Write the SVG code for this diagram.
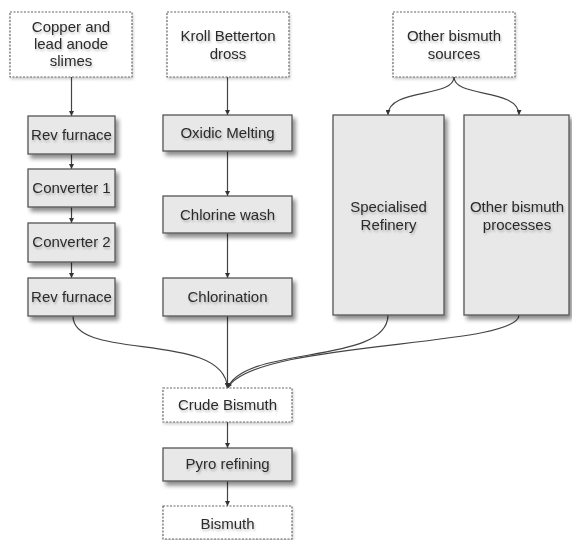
<svg xmlns="http://www.w3.org/2000/svg" width="572" height="540" viewBox="0 0 572 540">
  <defs>
    <filter id="shadow" x="-10%" y="-10%" width="130%" height="140%">
      <feGaussianBlur in="SourceAlpha" stdDeviation="2"/>
      <feOffset dx="3" dy="4" result="blur"/>
      <feComponentTransfer><feFuncA type="linear" slope="0.45"/></feComponentTransfer>
      <feMerge><feMergeNode/><feMergeNode in="SourceGraphic"/></feMerge>
    </filter>
    <filter id="softshadow" x="-10%" y="-10%" width="130%" height="140%">
      <feGaussianBlur in="SourceAlpha" stdDeviation="1.5"/>
      <feOffset dx="1" dy="2" result="blur"/>
      <feComponentTransfer><feFuncA type="linear" slope="0.2"/></feComponentTransfer>
      <feMerge><feMergeNode/><feMergeNode in="SourceGraphic"/></feMerge>
    </filter>
    <filter id="textglow" x="-10%" y="-30%" width="120%" height="160%">
      <feGaussianBlur in="SourceAlpha" stdDeviation="1.2"/>
      <feOffset dx="1" dy="1.5" result="blur"/>
      <feComponentTransfer><feFuncA type="linear" slope="0.25"/></feComponentTransfer>
      <feMerge><feMergeNode/><feMergeNode in="SourceGraphic"/></feMerge>
    </filter>
    <marker id="arrow" viewBox="0 0 8 8" refX="8" refY="4" markerWidth="5" markerHeight="5" orient="auto" markerUnits="userSpaceOnUse">
      <path d="M0,0 L8,4 L0,8 z" fill="#333"/>
    </marker>
  </defs>
  <style>
    .proc { fill: #e8e8e8; stroke: #555; stroke-width: 1.3; filter: url(#shadow); }
    .src { fill: #ffffff; stroke: #666; stroke-width: 1.2; stroke-dasharray: 2 1.5; filter: url(#softshadow); }
    .label { font-family: "Liberation Sans", Arial, sans-serif; font-size: 15px; fill: #2b2b2b; text-anchor: middle; filter: url(#textglow); }
    .conn { fill: none; stroke: #444; stroke-width: 1.2; marker-end: url(#arrow); }
  </style>

  <rect width="572" height="540" fill="#ffffff"/>

  <!-- connectors -->
  <g id="connectors">
    <path class="conn" d="M71.5,77 L71.5,116"/>
    <path class="conn" d="M71.5,154 L71.5,169"/>
    <path class="conn" d="M71.5,207 L71.5,223"/>
    <path class="conn" d="M71.5,262 L71.5,278"/>
    <path class="conn" d="M227.5,77 L227.5,115"/>
    <path class="conn" d="M227.5,151 L227.5,196"/>
    <path class="conn" d="M227.5,233 L227.5,278"/>
    <path class="conn" d="M227.5,316 L227.5,388"/>
    <path class="conn" d="M73,316 C73,362 224,330 227.5,388"/>
    <path class="conn" d="M388,315 C388,365 245,345 227.5,388"/>
    <path class="conn" d="M519,315 C519,348 255,340 227.5,388"/>
    <path class="conn" d="M454,77 C454,98 388,88 388,115"/>
    <path class="conn" d="M454,77 C454,98 519,88 519,115"/>
    <path class="conn" d="M227.5,422 L227.5,448"/>
    <path class="conn" d="M227.5,481 L227.5,506"/>
  </g>

  <!-- source nodes -->
  <g id="copper-slimes">
    <rect class="src" x="10" y="12" width="122" height="65"/>
    <text class="label" x="71" y="32">Copper and</text>
    <text class="label" x="71" y="49">lead anode</text>
    <text class="label" x="71" y="66">slimes</text>
  </g>
  <g id="kroll-dross">
    <rect class="src" x="167" y="12" width="122" height="65"/>
    <text class="label" x="228" y="41">Kroll Betterton</text>
    <text class="label" x="228" y="59">dross</text>
  </g>
  <g id="other-sources">
    <rect class="src" x="393" y="12" width="122" height="65"/>
    <text class="label" x="454" y="41">Other bismuth</text>
    <text class="label" x="454" y="59">sources</text>
  </g>

  <!-- left column -->
  <g id="rev-furnace-1">
    <rect class="proc" x="28" y="116" width="87" height="38"/>
    <text class="label" x="71.5" y="140">Rev furnace</text>
  </g>
  <g id="converter-1">
    <rect class="proc" x="28" y="169" width="87" height="38"/>
    <text class="label" x="71.5" y="193">Converter 1</text>
  </g>
  <g id="converter-2">
    <rect class="proc" x="28" y="223" width="87" height="39"/>
    <text class="label" x="71.5" y="247">Converter 2</text>
  </g>
  <g id="rev-furnace-2">
    <rect class="proc" x="28" y="278" width="87" height="38"/>
    <text class="label" x="71.5" y="302">Rev furnace</text>
  </g>

  <!-- middle column -->
  <g id="oxidic-melting">
    <rect class="proc" x="163" y="115" width="129" height="36"/>
    <text class="label" x="227.5" y="138">Oxidic Melting</text>
  </g>
  <g id="chlorine-wash">
    <rect class="proc" x="163" y="196" width="129" height="37"/>
    <text class="label" x="227.5" y="220">Chlorine wash</text>
  </g>
  <g id="chlorination">
    <rect class="proc" x="163" y="278" width="129" height="38"/>
    <text class="label" x="227.5" y="302">Chlorination</text>
  </g>

  <!-- right column -->
  <g id="specialised-refinery">
    <rect class="proc" x="333" y="115" width="111" height="200"/>
    <text class="label" x="388.5" y="212">Specialised</text>
    <text class="label" x="388.5" y="230">Refinery</text>
  </g>
  <g id="other-processes">
    <rect class="proc" x="464" y="115" width="105" height="200"/>
    <text class="label" x="517" y="212">Other bismuth</text>
    <text class="label" x="517" y="230">processes</text>
  </g>

  <!-- output chain -->
  <g id="crude-bismuth">
    <rect class="src" x="163" y="388" width="129" height="34"/>
    <text class="label" x="227.5" y="410">Crude Bismuth</text>
  </g>
  <g id="pyro-refining">
    <rect class="proc" x="163" y="448" width="129" height="33"/>
    <text class="label" x="227.5" y="469">Pyro refining</text>
  </g>
  <g id="bismuth">
    <rect class="src" x="163" y="506" width="129" height="33"/>
    <text class="label" x="227.5" y="529">Bismuth</text>
  </g>
</svg>
